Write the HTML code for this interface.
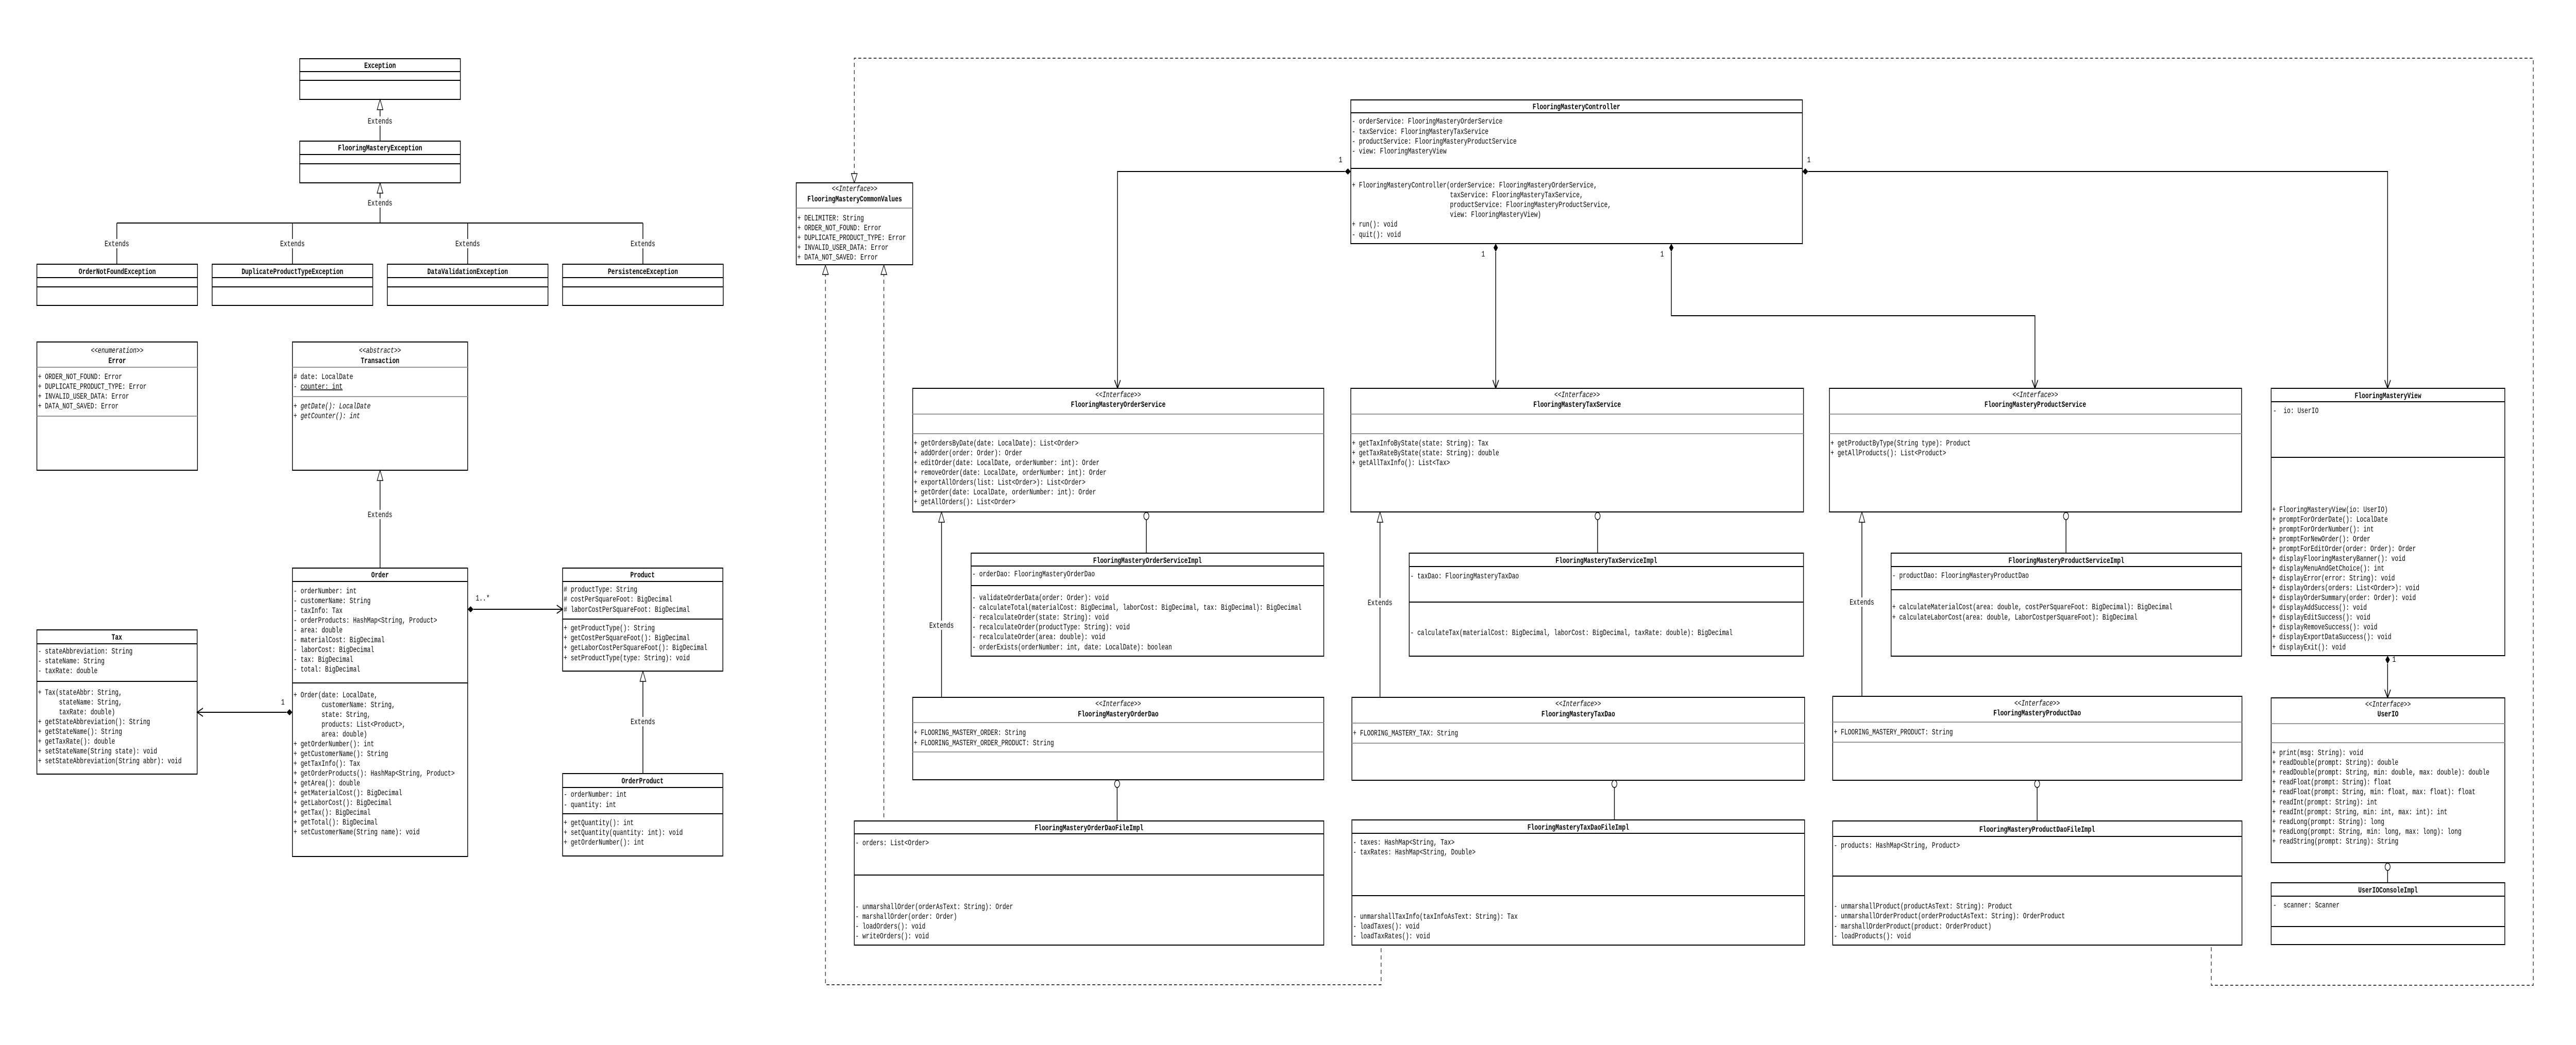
<!DOCTYPE html>
<html><head><meta charset="utf-8"><style>
html,body{margin:0;padding:0;background:#fff;width:100vw;height:100vh;overflow:hidden;}
svg{display:block;position:absolute;left:0;top:0;width:100vw;height:100vh}
text{font-family:"Liberation Mono",monospace;font-size:16px;fill:#000;}
.b{font-weight:bold}
.i{font-style:italic}
.c{text-anchor:middle}
.r{fill:#fff;stroke:#000;stroke-width:2}
.d{stroke:#000;stroke-width:2}
.g{stroke:#999;stroke-width:2}
.l{stroke:#000;stroke-width:2;fill:none}
.ds{stroke:#000;stroke-width:1.5;fill:none;stroke-dasharray:8 6}
.t{fill:#fff;stroke:#000;stroke-width:1.5}
.v text{font-size:16px}
</style></head><body>
<svg viewBox="0 0 7056 2029" preserveAspectRatio="none" xmlns="http://www.w3.org/2000/svg">
<rect width="7056" height="2029" fill="#fff"/>

<path class="ds" d="M2340 354 L2340 113 L6939 113 L6939 1913 L6057 1913 L6057 1836"/>
<path class="ds" d="M2261 515 L2261 1912 L3783 1912 L3783 1836"/>
<path class="ds" d="M2421 515 L2421 1594"/>
<polygon class="t" points="2340,355 2332,337 2348,337"/>
<polygon class="t" points="2261,515 2253,533 2269,533"/>
<polygon class="t" points="2421,515 2413,533 2429,533"/>

<rect class="r" x="821" y="114" width="440" height="79"/>
<line class="d" x1="821" y1="139" x2="1261" y2="139"/><line class="d" x1="821" y1="156" x2="1261" y2="156"/>
<text class="b c" x="1041" y="132">Exception</text>
<rect class="r" x="821" y="274" width="440" height="81"/>
<line class="d" x1="821" y1="300" x2="1261" y2="300"/><line class="d" x1="821" y1="318" x2="1261" y2="318"/>
<text class="b c" x="1041" y="292">FlooringMasteryException</text>
<line class="d" x1="1041" y1="213" x2="1041" y2="274"/>
<polygon class="t" points="1041,193 1033,213 1049,213"/>
<rect x="1005" y="226" width="72" height="18" fill="#fff"/><text class="c" x="1041" y="240">Extends</text>
<line class="d" x1="1041" y1="375" x2="1041" y2="433"/>
<polygon class="t" points="1041,355 1033,375 1049,375"/>
<rect x="1005" y="385" width="72" height="18" fill="#fff"/><text class="c" x="1041" y="399">Extends</text>
<line class="d" x1="320" y1="433" x2="1761" y2="433"/>
<g>
<line class="d" x1="320" y1="433" x2="320" y2="513"/><line class="d" x1="801" y1="433" x2="801" y2="513"/>
<line class="d" x1="1281" y1="433" x2="1281" y2="513"/><line class="d" x1="1761" y1="433" x2="1761" y2="513"/>
<rect x="284" y="464" width="72" height="18" fill="#fff"/><text class="c" x="320" y="478">Extends</text>
<rect x="765" y="464" width="72" height="18" fill="#fff"/><text class="c" x="801" y="478">Extends</text>
<rect x="1245" y="464" width="72" height="18" fill="#fff"/><text class="c" x="1281" y="478">Extends</text>
<rect x="1725" y="464" width="72" height="18" fill="#fff"/><text class="c" x="1761" y="478">Extends</text>
</g>
<rect class="r" x="101" y="513" width="440" height="80"/>
<line class="d" x1="101" y1="539" x2="541" y2="539"/><line class="d" x1="101" y1="557" x2="541" y2="557"/>
<text class="b c" x="321" y="532">OrderNotFoundException</text>
<rect class="r" x="581" y="513" width="440" height="80"/>
<line class="d" x1="581" y1="539" x2="1021" y2="539"/><line class="d" x1="581" y1="557" x2="1021" y2="557"/>
<text class="b c" x="801" y="532">DuplicateProductTypeException</text>
<rect class="r" x="1061" y="513" width="440" height="80"/>
<line class="d" x1="1061" y1="539" x2="1501" y2="539"/><line class="d" x1="1061" y1="557" x2="1501" y2="557"/>
<text class="b c" x="1281" y="532">DataValidationException</text>
<rect class="r" x="1541" y="513" width="440" height="80"/>
<line class="d" x1="1541" y1="539" x2="1981" y2="539"/><line class="d" x1="1541" y1="557" x2="1981" y2="557"/>
<text class="b c" x="1761" y="532">PersistenceException</text>

<rect class="r" x="101" y="664" width="440" height="249"/>
<text class="i c" x="321" y="685">&lt;&lt;enumeration&gt;&gt;</text>
<text class="b c" x="321" y="705">Error</text>
<line class="g" x1="101" y1="713" x2="541" y2="713"/><line class="g" x1="101" y1="808" x2="541" y2="808"/>
<text x="104" y="736">+ ORDER_NOT_FOUND: Error</text>
<text x="104" y="755">+ DUPLICATE_PRODUCT_TYPE: Error</text>
<text x="104" y="774">+ INVALID_USER_DATA: Error</text>
<text x="104" y="793">+ DATA_NOT_SAVED: Error</text>

<rect class="r" x="801" y="664" width="480" height="249"/>
<text class="i c" x="1041" y="685">&lt;&lt;abstract&gt;&gt;</text>
<text class="b c" x="1041" y="705">Transaction</text>
<line class="g" x1="801" y1="713" x2="1281" y2="713"/><line class="g" x1="801" y1="770" x2="1281" y2="770"/>
<text x="804" y="736"># date: LocalDate</text>
<text x="804" y="755">- <tspan text-decoration="underline">counter: int</tspan></text>
<text class="i" x="804" y="793">+ getDate(): LocalDate</text>
<text class="i" x="804" y="812">+ getCounter(): int</text>
<line class="d" x1="1041" y1="933" x2="1041" y2="1103"/>
<polygon class="t" points="1041,913 1033,933 1049,933"/>
<rect x="1005" y="990" width="72" height="18" fill="#fff"/><text class="c" x="1041" y="1004">Extends</text>

<rect class="r" x="801" y="1103" width="480" height="560"/>
<line class="d" x1="801" y1="1129" x2="1281" y2="1129"/><line class="d" x1="801" y1="1326" x2="1281" y2="1326"/>
<text class="b c" x="1041" y="1121">Order</text>
<g>
<text x="804" y="1152">- orderNumber: int</text>
<text x="804" y="1171">- customerName: String</text>
<text x="804" y="1190">- taxInfo: Tax</text>
<text x="804" y="1209">- orderProducts: HashMap&lt;String, Product&gt;</text>
<text x="804" y="1228">- area: double</text>
<text x="804" y="1247">- materialCost: BigDecimal</text>
<text x="804" y="1266">- laborCost: BigDecimal</text>
<text x="804" y="1285">- tax: BigDecimal</text>
<text x="804" y="1304">- total: BigDecimal</text>
<text x="804" y="1354" xml:space="preserve">+ Order(date: LocalDate,</text>
<text x="804" y="1373" xml:space="preserve">        customerName: String,</text>
<text x="804" y="1392" xml:space="preserve">        state: String,</text>
<text x="804" y="1411" xml:space="preserve">        products: List&lt;Product&gt;,</text>
<text x="804" y="1430" xml:space="preserve">        area: double)</text>
<text x="804" y="1449">+ getOrderNumber(): int</text>
<text x="804" y="1468">+ getCustomerName(): String</text>
<text x="804" y="1487">+ getTaxInfo(): Tax</text>
<text x="804" y="1506">+ getOrderProducts(): HashMap&lt;String, Product&gt;</text>
<text x="804" y="1525">+ getArea(): double</text>
<text x="804" y="1544">+ getMaterialCost(): BigDecimal</text>
<text x="804" y="1563">+ getLaborCost(): BigDecimal</text>
<text x="804" y="1582">+ getTax(): BigDecimal</text>
<text x="804" y="1601">+ getTotal(): BigDecimal</text>
<text x="804" y="1620">+ setCustomerName(String name): void</text>
</g>

<rect class="r" x="1541" y="1103" width="439" height="200"/>
<line class="d" x1="1541" y1="1129" x2="1980" y2="1129"/><line class="d" x1="1541" y1="1202" x2="1980" y2="1202"/>
<text class="b c" x="1760" y="1121">Product</text>
<text x="1544" y="1149"># productType: String</text>
<text x="1544" y="1168"># costPerSquareFoot: BigDecimal</text>
<text x="1544" y="1188"># laborCostPerSquareFoot: BigDecimal</text>
<text x="1544" y="1224">+ getProductType(): String</text>
<text x="1544" y="1243">+ getCostPerSquareFoot(): BigDecimal</text>
<text x="1544" y="1262">+ getLaborCostPerSquareFoot(): BigDecimal</text>
<text x="1544" y="1282">+ setProductType(type: String): void</text>

<rect class="r" x="1541" y="1502" width="439" height="160"/>
<line class="d" x1="1541" y1="1529" x2="1980" y2="1529"/><line class="d" x1="1541" y1="1580" x2="1980" y2="1580"/>
<text class="b c" x="1760" y="1521">OrderProduct</text>
<text x="1544" y="1547">- orderNumber: int</text>
<text x="1544" y="1567">- quantity: int</text>
<text x="1544" y="1602">+ getQuantity(): int</text>
<text x="1544" y="1621">+ setQuantity(quantity: int): void</text>
<text x="1544" y="1640">+ getOrderNumber(): int</text>
<line class="d" x1="1761" y1="1323" x2="1761" y2="1502"/>
<polygon class="t" points="1761,1303 1753,1323 1769,1323"/>
<rect x="1725" y="1392" width="72" height="18" fill="#fff"/><text class="c" x="1761" y="1406">Extends</text>

<rect class="r" x="101" y="1223" width="439" height="280"/>
<line class="d" x1="101" y1="1250" x2="540" y2="1250"/><line class="d" x1="101" y1="1323" x2="540" y2="1323"/>
<text class="b c" x="320" y="1242">Tax</text>
<text x="104" y="1269">- stateAbbreviation: String</text>
<text x="104" y="1288">- stateName: String</text>
<text x="104" y="1307">- taxRate: double</text>
<text x="104" y="1349" xml:space="preserve">+ Tax(stateAbbr: String,</text>
<text x="104" y="1368" xml:space="preserve">      stateName: String,</text>
<text x="104" y="1387" xml:space="preserve">      taxRate: double)</text>
<text x="104" y="1406">+ getStateAbbreviation(): String</text>
<text x="104" y="1425">+ getStateName(): String</text>
<text x="104" y="1444">+ getTaxRate(): double</text>
<text x="104" y="1463">+ setStateName(String state): void</text>
<text x="104" y="1482">+ setStateAbbreviation(String abbr): void</text>

<line class="d" x1="540" y1="1383" x2="785" y2="1383"/>
<polyline class="l" points="556,1375 540,1383 556,1391"/>
<polygon points="801,1383 793,1377 785,1383 793,1389" fill="#000"/>
<text x="770" y="1368">1</text>
<line class="d" x1="1297" y1="1183" x2="1541" y2="1183"/>
<polyline class="l" points="1525,1175 1541,1183 1525,1191"/>
<polygon points="1281,1183 1289,1177 1297,1183 1289,1189" fill="#000"/>
<text x="1303" y="1166">1..*</text>

<rect class="r" x="2181" y="355" width="319" height="159"/>
<text class="i c" x="2341" y="371">&lt;&lt;Interface&gt;&gt;</text>
<text class="b c" x="2341" y="391">FlooringMasteryCommonValues</text>
<line class="g" x1="2181" y1="404" x2="2500" y2="404"/>
<text x="2184" y="428">+ DELIMITER: String</text>
<text x="2184" y="447">+ ORDER_NOT_FOUND: Error</text>
<text x="2184" y="466">+ DUPLICATE_PRODUCT_TYPE: Error</text>
<text x="2184" y="485">+ INVALID_USER_DATA: Error</text>
<text x="2184" y="504">+ DATA_NOT_SAVED: Error</text>

<rect class="r" x="3700" y="194" width="1237" height="279"/>
<line class="d" x1="3700" y1="219" x2="4937" y2="219"/><line class="d" x1="3700" y1="327" x2="4937" y2="327"/>
<text class="b c" x="4318" y="212">FlooringMasteryController</text>
<text x="3703" y="240">- orderService: FlooringMasteryOrderService</text>
<text x="3703" y="260">- taxService: FlooringMasteryTaxService</text>
<text x="3703" y="279">- productService: FlooringMasteryProductService</text>
<text x="3703" y="298">- view: FlooringMasteryView</text>
<text x="3703" y="364" xml:space="preserve">+ FlooringMasteryController(orderService: FlooringMasteryOrderService,</text>
<text x="3703" y="383" xml:space="preserve">                            taxService: FlooringMasteryTaxService,</text>
<text x="3703" y="402" xml:space="preserve">                            productService: FlooringMasteryProductService,</text>
<text x="3703" y="421" xml:space="preserve">                            view: FlooringMasteryView)</text>
<text x="3703" y="440">+ run(): void</text>
<text x="3703" y="460">- quit(): void</text>

<polyline class="l" points="3684,333 3061,333 3061,754"/>
<polygon points="3700,333 3692,327 3684,333 3692,339" fill="#000"/>
<polyline class="l" points="3053,738 3061,754 3069,738"/>
<text x="3667" y="315">1</text>
<polyline class="l" points="4953,333 6540,333 6540,754"/>
<polygon points="4937,333 4945,327 4953,333 4945,339" fill="#000"/>
<polyline class="l" points="6532,738 6540,754 6548,738"/>
<text x="4950" y="315">1</text>
<line class="d" x1="4097" y1="489" x2="4097" y2="754"/>
<polygon points="4097,473 4103,481 4097,489 4091,481" fill="#000"/>
<polyline class="l" points="4089,738 4097,754 4105,738"/>
<text x="4058" y="498">1</text>
<polyline class="l" points="4578,489 4578,613 5574,613 5574,754"/>
<polygon points="4578,473 4584,481 4578,489 4572,481" fill="#000"/>
<polyline class="l" points="5566,738 5574,754 5582,738"/>
<text x="4548" y="498">1</text>

<rect class="r" x="2500" y="754" width="1126" height="240"/>
<text class="i c" x="3063" y="771">&lt;&lt;Interface&gt;&gt;</text>
<text class="b c" x="3063" y="790">FlooringMasteryOrderService</text>
<line class="g" x1="2500" y1="804" x2="3626" y2="804"/><line class="g" x1="2500" y1="842" x2="3626" y2="842"/>
<text x="2503" y="865">+ getOrdersByDate(date: LocalDate): List&lt;Order&gt;</text>
<text x="2503" y="884">+ addOrder(order: Order): Order</text>
<text x="2503" y="903">+ editOrder(date: LocalDate, orderNumber: int): Order</text>
<text x="2503" y="922">+ removeOrder(date: LocalDate, orderNumber: int): Order</text>
<text x="2503" y="941">+ exportAllOrders(list: List&lt;Order&gt;): List&lt;Order&gt;</text>
<text x="2503" y="960">+ getOrder(date: LocalDate, orderNumber: int): Order</text>
<text x="2503" y="979">+ getAllOrders(): List&lt;Order&gt;</text>
<circle cx="3140" cy="1002" r="7" fill="#fff" stroke="#000" stroke-width="1.5"/>
<line class="d" x1="3140" y1="1009" x2="3140" y2="1074"/>
<rect class="r" x="2660" y="1074" width="966" height="200"/>
<line class="d" x1="2660" y1="1099" x2="3626" y2="1099"/><line class="d" x1="2660" y1="1137" x2="3626" y2="1137"/>
<text class="b c" x="3143" y="1093">FlooringMasteryOrderServiceImpl</text>
<text x="2663" y="1119">- orderDao: FlooringMasteryOrderDao</text>
<text x="2663" y="1165">- validateOrderData(order: Order): void</text>
<text x="2663" y="1184">- calculateTotal(materialCost: BigDecimal, laborCost: BigDecimal, tax: BigDecimal): BigDecimal</text>
<text x="2663" y="1203">- recalculateOrder(state: String): void</text>
<text x="2663" y="1222">- recalculateOrder(productType: String): void</text>
<text x="2663" y="1241">- recalculateOrder(area: double): void</text>
<text x="2663" y="1261">- orderExists(orderNumber: int, date: LocalDate): boolean</text>
<line class="d" x1="2579" y1="1014" x2="2579" y2="1354"/>
<polygon class="t" points="2579,994 2571,1014 2587,1014"/>
<rect x="2543" y="1205" width="72" height="18" fill="#fff"/><text class="c" x="2579" y="1219">Extends</text>

<rect class="r" x="2500" y="1354" width="1126" height="160"/>
<text class="i c" x="3063" y="1371">&lt;&lt;Interface&gt;&gt;</text>
<text class="b c" x="3063" y="1391">FlooringMasteryOrderDao</text>
<line class="g" x1="2500" y1="1403" x2="3626" y2="1403"/><line class="g" x1="2500" y1="1460" x2="3626" y2="1460"/>
<text x="2503" y="1427">+ FLOORING_MASTERY_ORDER: String</text>
<text x="2503" y="1447">+ FLOORING_MASTERY_ORDER_PRODUCT: String</text>
<circle cx="3060" cy="1522" r="7" fill="#fff" stroke="#000" stroke-width="1.5"/>
<line class="d" x1="3060" y1="1529" x2="3060" y2="1594"/>
<rect class="r" x="2340" y="1594" width="1286" height="241"/>
<line class="d" x1="2340" y1="1619" x2="3626" y2="1619"/><line class="d" x1="2340" y1="1699" x2="3626" y2="1699"/>
<text class="b c" x="2983" y="1612">FlooringMasteryOrderDaoFileImpl</text>
<text x="2343" y="1641">- orders: List&lt;Order&gt;</text>
<text x="2343" y="1765">- unmarshallOrder(orderAsText: String): Order</text>
<text x="2343" y="1784">- marshallOrder(order: Order)</text>
<text x="2343" y="1803">- loadOrders(): void</text>
<text x="2343" y="1822">- writeOrders(): void</text>

<rect class="r" x="3700" y="754" width="1240" height="240"/>
<text class="i c" x="4320" y="771">&lt;&lt;Interface&gt;&gt;</text>
<text class="b c" x="4320" y="790">FlooringMasteryTaxService</text>
<line class="g" x1="3700" y1="804" x2="4940" y2="804"/><line class="g" x1="3700" y1="842" x2="4940" y2="842"/>
<text x="3703" y="865">+ getTaxInfoByState(state: String): Tax</text>
<text x="3703" y="884">+ getTaxRateByState(state: String): double</text>
<text x="3703" y="903">+ getAllTaxInfo(): List&lt;Tax&gt;</text>
<circle cx="4376" cy="1002" r="7" fill="#fff" stroke="#000" stroke-width="1.5"/>
<line class="d" x1="4376" y1="1009" x2="4376" y2="1074"/>
<rect class="r" x="3860" y="1074" width="1080" height="200"/>
<line class="d" x1="3860" y1="1100" x2="4940" y2="1100"/><line class="d" x1="3860" y1="1169" x2="4940" y2="1169"/>
<text class="b c" x="4400" y="1093">FlooringMasteryTaxServiceImpl</text>
<text x="3863" y="1123">- taxDao: FlooringMasteryTaxDao</text>
<text x="3863" y="1233">- calculateTax(materialCost: BigDecimal, laborCost: BigDecimal, taxRate: double): BigDecimal</text>
<line class="d" x1="3780" y1="1014" x2="3780" y2="1354"/>
<polygon class="t" points="3780,994 3772,1014 3788,1014"/>
<rect x="3744" y="1161" width="72" height="18" fill="#fff"/><text class="c" x="3780" y="1175">Extends</text>

<rect class="r" x="3703" y="1354" width="1240" height="161"/>
<text class="i c" x="4323" y="1371">&lt;&lt;Interface&gt;&gt;</text>
<text class="b c" x="4323" y="1391">FlooringMasteryTaxDao</text>
<line class="g" x1="3703" y1="1404" x2="4943" y2="1404"/><line class="g" x1="3703" y1="1443" x2="4943" y2="1443"/>
<text x="3706" y="1428">+ FLOORING_MASTERY_TAX: String</text>
<circle cx="4422" cy="1522" r="7" fill="#fff" stroke="#000" stroke-width="1.5"/>
<line class="d" x1="4422" y1="1529" x2="4422" y2="1592"/>
<rect class="r" x="3703" y="1592" width="1240" height="243"/>
<line class="d" x1="3703" y1="1618" x2="4943" y2="1618"/><line class="d" x1="3703" y1="1739" x2="4943" y2="1739"/>
<text class="b c" x="4323" y="1611">FlooringMasteryTaxDaoFileImpl</text>
<text x="3706" y="1640">- taxes: HashMap&lt;String, Tax&gt;</text>
<text x="3706" y="1659">- taxRates: HashMap&lt;String, Double&gt;</text>
<text x="3706" y="1784">- unmarshallTaxInfo(taxInfoAsText: String): Tax</text>
<text x="3706" y="1803">- loadTaxes(): void</text>
<text x="3706" y="1822">- loadTaxRates(): void</text>

<rect class="r" x="5011" y="754" width="1129" height="240"/>
<text class="i c" x="5575" y="771">&lt;&lt;Interface&gt;&gt;</text>
<text class="b c" x="5575" y="790">FlooringMasteryProductService</text>
<line class="g" x1="5011" y1="804" x2="6140" y2="804"/><line class="g" x1="5011" y1="842" x2="6140" y2="842"/>
<text x="5014" y="865">+ getProductByType(String type): Product</text>
<text x="5014" y="884">+ getAllProducts(): List&lt;Product&gt;</text>
<circle cx="5659" cy="1002" r="7" fill="#fff" stroke="#000" stroke-width="1.5"/>
<line class="d" x1="5659" y1="1009" x2="5659" y2="1074"/>
<rect class="r" x="5180" y="1074" width="960" height="200"/>
<line class="d" x1="5180" y1="1100" x2="6140" y2="1100"/><line class="d" x1="5180" y1="1145" x2="6140" y2="1145"/>
<text class="b c" x="5660" y="1093">FlooringMasteryProductServiceImpl</text>
<text x="5183" y="1122">- productDao: FlooringMasteryProductDao</text>
<text x="5183" y="1183">+ calculateMaterialCost(area: double, costPerSquareFoot: BigDecimal): BigDecimal</text>
<text x="5183" y="1203">+ calculateLaborCost(area: double, LaborCostperSquareFoot): BigDecimal</text>
<line class="d" x1="5100" y1="1014" x2="5100" y2="1352"/>
<polygon class="t" points="5100,994 5092,1014 5108,1014"/>
<rect x="5064" y="1160" width="72" height="18" fill="#fff"/><text class="c" x="5100" y="1174">Extends</text>

<rect class="r" x="5020" y="1352" width="1121" height="163"/>
<text class="i c" x="5580" y="1370">&lt;&lt;Interface&gt;&gt;</text>
<text class="b c" x="5580" y="1389">FlooringMasteryProductDao</text>
<line class="g" x1="5020" y1="1402" x2="6141" y2="1402"/><line class="g" x1="5020" y1="1441" x2="6141" y2="1441"/>
<text x="5023" y="1426">+ FLOORING_MASTERY_PRODUCT: String</text>
<circle cx="5580" cy="1522" r="7" fill="#fff" stroke="#000" stroke-width="1.5"/>
<line class="d" x1="5580" y1="1529" x2="5580" y2="1594"/>
<rect class="r" x="5020" y="1594" width="1121" height="241"/>
<line class="d" x1="5020" y1="1624" x2="6141" y2="1624"/><line class="d" x1="5020" y1="1701" x2="6141" y2="1701"/>
<text class="b c" x="5580" y="1615">FlooringMasteryProductDaoFileImpl</text>
<text x="5023" y="1646">- products: HashMap&lt;String, Product&gt;</text>
<text x="5023" y="1764">- unmarshallProduct(productAsText: String): Product</text>
<text x="5023" y="1783">- unmarshallOrderProduct(orderProductAsText: String): OrderProduct</text>
<text x="5023" y="1803">- marshallOrderProduct(product: OrderProduct)</text>
<text x="5023" y="1822">- loadProducts(): void</text>

<g class="v">
<rect class="r" x="6221" y="754" width="640" height="519"/>
<line class="d" x1="6221" y1="780" x2="6861" y2="780"/><line class="d" x1="6221" y1="888" x2="6861" y2="888"/>
<text class="b c" x="6541" y="773">FlooringMasteryView</text>
<text x="6226" y="802" xml:space="preserve">-  io: UserIO</text>
<text x="6224" y="994">+ FlooringMasteryView(io: UserIO)</text>
<text x="6224" y="1013">+ promptForOrderDate(): LocalDate</text>
<text x="6224" y="1032">+ promptForOrderNumber(): int</text>
<text x="6224" y="1051">+ promptForNewOrder(): Order</text>
<text x="6224" y="1070">+ promptForEditOrder(order: Order): Order</text>
<text x="6224" y="1089">+ displayFlooringMasteryBanner(): void</text>
<text x="6224" y="1108">+ displayMenuAndGetChoice(): int</text>
<text x="6224" y="1127">+ displayError(error: String): void</text>
<text x="6224" y="1146">+ displayOrders(orders: List&lt;Order&gt;): void</text>
<text x="6224" y="1165">+ displayOrderSummary(order: Order): void</text>
<text x="6224" y="1184">+ displayAddSuccess(): void</text>
<text x="6224" y="1203">+ displayEditSuccess(): void</text>
<text x="6224" y="1222">+ displayRemoveSuccess(): void</text>
<text x="6224" y="1241">+ displayExportDataSuccess(): void</text>
<text x="6224" y="1261">+ displayExit(): void</text>
<line class="d" x1="6540" y1="1289" x2="6540" y2="1355"/>
<polygon points="6540,1273 6546,1281 6540,1289 6534,1281" fill="#000"/>
<polyline class="l" points="6532,1339 6540,1355 6548,1339"/>
<text x="6553" y="1285">1</text>
<rect class="r" x="6221" y="1355" width="640" height="320"/>
<text class="i c" x="6541" y="1372">&lt;&lt;Interface&gt;&gt;</text>
<text class="b c" x="6541" y="1391">UserIO</text>
<line class="g" x1="6221" y1="1405" x2="6861" y2="1405"/><line class="g" x1="6221" y1="1442" x2="6861" y2="1442"/>
<text x="6224" y="1466">+ print(msg: String): void</text>
<text x="6224" y="1485">+ readDouble(prompt: String): double</text>
<text x="6224" y="1504">+ readDouble(prompt: String, min: double, max: double): double</text>
<text x="6224" y="1523">+ readFloat(prompt: String): float</text>
<text x="6224" y="1542">+ readFloat(prompt: String, min: float, max: float): float</text>
<text x="6224" y="1562">+ readInt(prompt: String): int</text>
<text x="6224" y="1581">+ readInt(prompt: String, min: int, max: int): int</text>
<text x="6224" y="1600">+ readLong(prompt: String): long</text>
<text x="6224" y="1619">+ readLong(prompt: String, min: long, max: long): long</text>
<text x="6224" y="1638">+ readString(prompt: String): String</text>
<circle cx="6540" cy="1683" r="7" fill="#fff" stroke="#000" stroke-width="1.5"/>
<line class="d" x1="6540" y1="1690" x2="6540" y2="1714"/>
<rect class="r" x="6221" y="1714" width="640" height="120"/>
<line class="d" x1="6221" y1="1740" x2="6861" y2="1740"/><line class="d" x1="6221" y1="1799" x2="6861" y2="1799"/>
<text class="b c" x="6541" y="1733">UserIOConsoleImpl</text>
<text x="6226" y="1762" xml:space="preserve">-  scanner: Scanner</text>
</g>
</svg>
</body></html>
